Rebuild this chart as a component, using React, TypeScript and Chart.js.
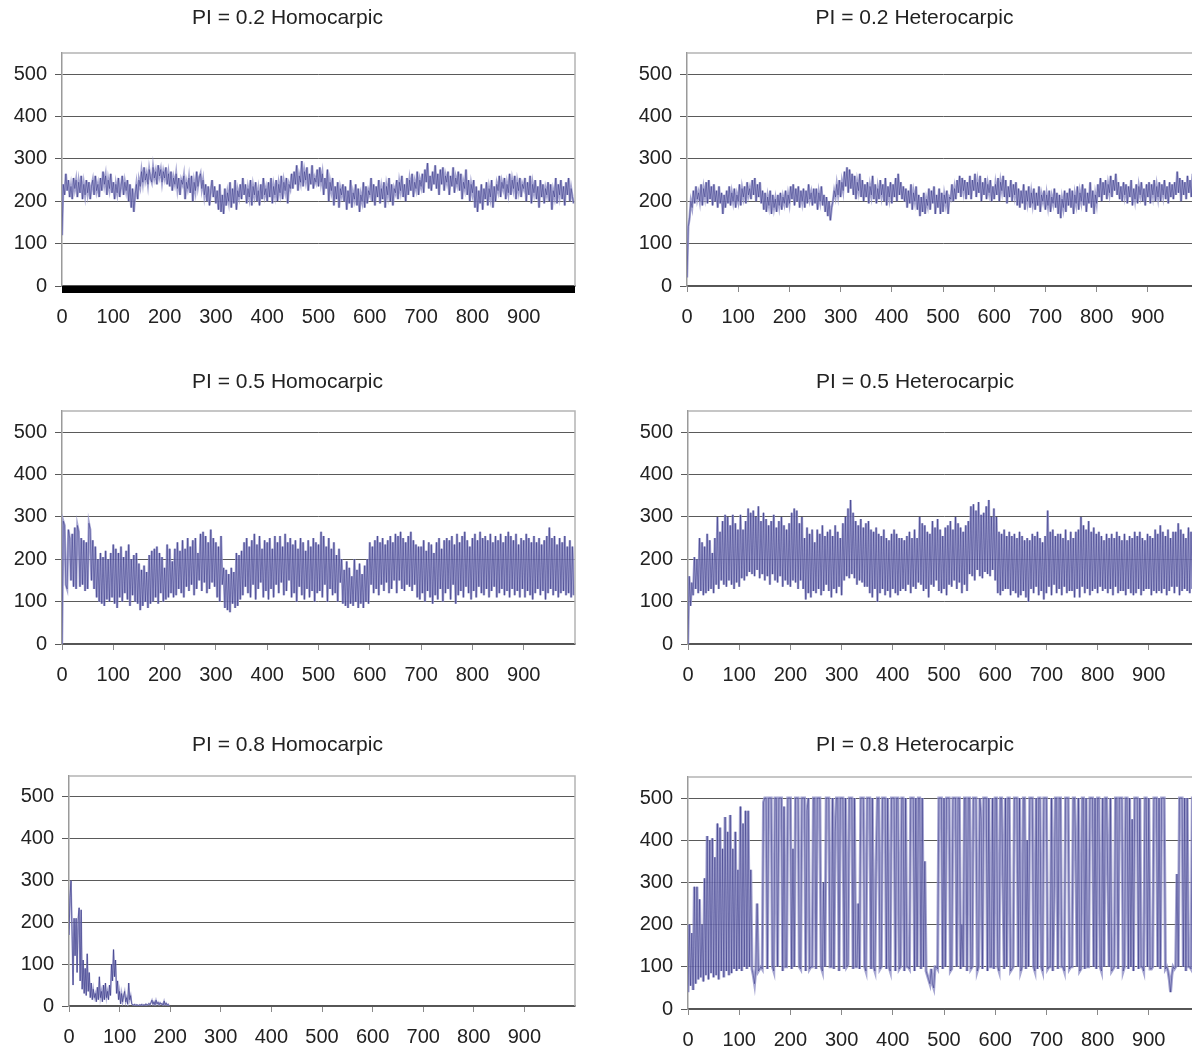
import React, { useEffect, useRef } from "react";
import { Chart, registerables } from "chart.js";

Chart.register(...registerables);

// ---------- data ----------
const X_TICK_VALUES = [0, 100, 200, 300, 400, 500, 600, 700, 800, 900];
const Y_TICK_VALUES = [0, 100, 200, 300, 400, 500];
const X_MAX = 1000;
const Y_MAX = 550;

const TITLE_TL = "PI = 0.2 Homocarpic";
const TITLE_TR = "PI = 0.2 Heterocarpic";
const TITLE_ML = "PI = 0.5 Homocarpic";
const TITLE_MR = "PI = 0.5 Heterocarpic";
const TITLE_BL = "PI = 0.8 Homocarpic";
const TITLE_BR = "PI = 0.8 Heterocarpic";

// generation spacing of the sampled values
const STEP_MAIN = 2.5;
const STEP_BL = 2;

const TL_VALUES = [
  120, 240, 215, 265, 225, 250, 210, 235, 205, 255,
  230, 250, 210, 245, 220, 260, 205, 240, 215, 250,
  220, 245, 205, 235, 250, 215, 260, 225, 240, 210,
  255, 225, 270, 240, 260, 215, 250, 230, 265, 220,
  245, 205, 240, 220, 255, 210, 235, 260, 215, 245,
  225, 250, 200, 240, 185, 230, 175, 215, 240, 205,
  250, 235, 270, 245, 280, 250, 265, 240, 275, 255,
  245, 280, 255, 270, 240, 285, 260, 275, 245, 270,
  255, 280, 240, 265, 235, 270, 225, 255, 240, 265,
  230, 255, 215, 250, 240, 260, 205, 245, 230, 255,
  220, 260, 200, 245, 225, 270, 235, 255, 265, 230,
  250, 215, 240, 200, 235, 190, 225, 250, 210, 235,
  195, 225, 180, 240, 175, 215, 170, 230, 190, 220,
  200, 245, 185, 230, 195, 250, 180, 225, 210, 240,
  205, 255, 215, 240, 195, 230, 210, 250, 190, 235,
  215, 245, 200, 225, 190, 240, 205, 255, 215, 230,
  200, 245, 210, 255, 195, 235, 215, 250, 200, 240,
  220, 260, 205, 245, 225, 255, 195, 240, 230, 265,
  230, 270, 240, 285, 225, 260, 245, 295, 235, 270,
  250, 280, 225, 265, 240, 285, 230, 255, 245, 275,
  235, 280, 245, 265, 215, 255, 230, 275, 200, 245,
  225, 255, 190, 235, 205, 245, 185, 230, 215, 240,
  200, 235, 180, 225, 195, 250, 185, 220, 205, 240,
  190, 230, 175, 215, 200, 245, 185, 235, 195, 225,
  215, 255, 200, 240, 190, 235, 210, 250, 195, 230,
  205, 245, 185, 235, 215, 255, 200, 240, 190, 230,
  220, 250, 205, 245, 225, 260, 210, 240, 200, 255,
  215, 250, 225, 265, 210, 245, 230, 270, 215, 250,
  235, 265, 220, 275, 245, 290, 230, 260, 225, 270,
  240, 285, 230, 265, 215, 275, 240, 280, 225, 260,
  245, 270, 215, 260, 235, 280, 220, 255, 240, 270,
  225, 265, 205, 245, 230, 275, 215, 250, 200, 240,
  220, 250, 185, 235, 175, 225, 195, 240, 180, 230,
  205, 245, 190, 230, 210, 250, 185, 235, 200, 240,
  225, 260, 210, 245, 230, 255, 205, 240, 220, 265,
  215, 250, 230, 260, 205, 245, 225, 255, 210, 240,
  230, 255, 200, 245, 215, 260, 195, 240, 220, 250,
  205, 235, 185, 250, 210, 240, 195, 230, 215, 245,
  200, 240, 180, 225, 210, 255, 195, 240, 215, 250,
  205, 235, 190, 245, 215, 255, 200, 230, 210, 195,
];

const TR_VALUES = [
  20, 140, 160, 200, 185, 225, 195, 235, 205, 220,
  200, 240, 190, 230, 210, 245, 195, 250, 205, 235,
  190, 240, 200, 225, 185, 235, 195, 220, 170, 215,
  185, 225, 195, 235, 190, 220, 200, 230, 185, 215,
  200, 240, 190, 230, 210, 235, 195, 245, 215, 230,
  205, 250, 215, 255, 200, 240, 210, 245, 195, 225,
  180, 220, 175, 210, 190, 225, 170, 215, 185, 205,
  175, 215, 190, 220, 180, 210, 195, 225, 185, 215,
  195, 235, 205, 240, 190, 230, 200, 235, 185, 225,
  200, 230, 185, 225, 195, 240, 205, 220, 190, 230,
  195, 230, 180, 220, 200, 235, 190, 215, 175, 210,
  165, 200, 155, 185, 200, 225, 210, 240, 215, 250,
  210, 245, 225, 270, 235, 280, 220, 275, 230, 265,
  215, 260, 205, 245, 225, 265, 210, 250, 200, 240,
  210, 245, 195, 235, 215, 260, 205, 240, 195, 230,
  205, 250, 215, 240, 200, 255, 190, 235, 210, 245,
  195, 240, 210, 255, 200, 265, 215, 245, 205, 235,
  200, 230, 185, 225, 195, 240, 180, 220, 200, 235,
  180, 215, 165, 210, 175, 220, 170, 205, 190, 230,
  180, 225, 195, 235, 170, 215, 185, 230, 170, 220,
  175, 215, 195, 225, 170, 210, 205, 240, 200, 230,
  205, 250, 220, 260, 210, 255, 225, 250, 205, 245,
  215, 260, 205, 250, 225, 265, 210, 245, 220, 260,
  200, 245, 215, 255, 205, 240, 220, 250, 200, 235,
  205, 240, 215, 255, 200, 245, 225, 260, 210, 250,
  195, 235, 210, 250, 200, 240, 215, 245, 190, 230,
  185, 225, 195, 240, 180, 225, 200, 235, 185, 220,
  195, 230, 180, 220, 190, 235, 175, 215, 200, 225,
  180, 215, 190, 225, 175, 210, 195, 230, 185, 220,
  170, 215, 160, 205, 185, 225, 175, 220, 190, 230,
  185, 225, 170, 215, 195, 235, 180, 220, 200, 240,
  190, 230, 175, 220, 195, 245, 185, 225, 170, 215,
  195, 240, 210, 255, 200, 245, 215, 250, 205, 240,
  220, 260, 210, 250, 225, 265, 215, 245, 205, 235,
  200, 245, 215, 240, 195, 235, 210, 250, 190, 230,
  205, 240, 195, 235, 215, 245, 200, 230, 190, 240,
  210, 245, 195, 240, 215, 250, 200, 235, 210, 245,
  200, 240, 215, 250, 205, 235, 195, 245, 210, 240,
  205, 245, 215, 270, 220, 255, 200, 250, 215, 245,
  205, 260, 220, 250, 210, 265, 215, 245, 205, 240,
];

const ML_VALUES = [
  0, 290, 280, 140, 130, 270, 250, 150, 260, 135,
  275, 130, 280, 265, 135, 250, 140, 245, 125, 240,
  130, 285, 270, 150, 245, 130, 230, 110, 200, 100,
  215, 95, 205, 90, 220, 105, 200, 100, 215, 110,
  235, 95, 225, 85, 215, 110, 230, 100, 205, 120,
  220, 105, 235, 90, 200, 115, 210, 100, 215, 95,
  190, 80, 175, 90, 185, 100, 170, 85, 210, 95,
  220, 100, 225, 110, 230, 95, 215, 120, 205, 100,
  180, 105, 235, 110, 225, 120, 195, 110, 225, 115,
  240, 130, 220, 120, 245, 110, 225, 135, 250, 125,
  230, 140, 245, 115, 250, 130, 215, 150, 260, 125,
  265, 145, 255, 120, 240, 130, 270, 145, 250, 135,
  240, 110, 230, 100, 255, 140, 180, 85, 175, 80,
  165, 75, 180, 95, 170, 85, 215, 90, 210, 105,
  220, 115, 240, 135, 250, 120, 230, 110, 245, 140,
  260, 105, 235, 130, 255, 145, 225, 110, 245, 125,
  240, 105, 250, 130, 225, 110, 255, 140, 240, 120,
  255, 145, 230, 115, 260, 125, 240, 150, 250, 110,
  235, 120, 245, 100, 225, 135, 250, 115, 240, 105,
  220, 130, 245, 110, 230, 125, 250, 100, 240, 120,
  235, 125, 265, 110, 255, 140, 230, 100, 250, 130,
  225, 115, 240, 120, 210, 100, 225, 145, 200, 95,
  175, 90, 195, 85, 180, 95, 160, 90, 200, 100,
  175, 85, 190, 95, 165, 85, 185, 100, 200, 95,
  240, 140, 230, 120, 245, 130, 255, 115, 240, 140,
  250, 125, 235, 145, 245, 120, 255, 130, 240, 150,
  260, 120, 255, 150, 265, 130, 250, 125, 240, 140,
  255, 135, 265, 125, 245, 140, 235, 110, 230, 105,
  230, 120, 245, 100, 220, 125, 240, 110, 235, 95,
  215, 115, 240, 105, 250, 130, 225, 100, 245, 120,
  250, 130, 245, 105, 255, 140, 235, 95, 260, 115,
  240, 125, 255, 110, 265, 135, 245, 120, 230, 105,
  250, 125, 260, 110, 245, 135, 265, 120, 250, 115,
  255, 130, 245, 110, 260, 125, 240, 135, 255, 110,
  245, 120, 260, 130, 240, 115, 255, 125, 265, 110,
  255, 130, 245, 115, 260, 125, 235, 110, 250, 130,
  245, 110, 260, 125, 250, 115, 240, 105, 255, 120,
  240, 130, 250, 115, 235, 125, 245, 105, 255, 120,
  275, 130, 250, 115, 255, 125, 235, 110, 250, 120,
  240, 125, 255, 115, 230, 120, 245, 110, 230, 115,
];

const MR_VALUES = [
  0, 160, 90, 145, 115, 205, 130, 200, 120, 250,
  125, 240, 115, 230, 120, 260, 125, 245, 130, 215,
  120, 250, 140, 300, 130, 265, 150, 290, 140, 305,
  135, 300, 150, 280, 140, 305, 130, 285, 145, 270,
  135, 305, 155, 270, 150, 290, 160, 320, 170, 310,
  165, 315, 160, 300, 175, 325, 155, 290, 165, 310,
  150, 295, 160, 280, 140, 290, 165, 305, 150, 275,
  145, 290, 160, 300, 135, 280, 150, 270, 140, 285,
  135, 310, 150, 320, 145, 315, 130, 285, 150, 300,
  130, 250, 105, 275, 120, 260, 110, 270, 125, 240,
  120, 270, 130, 260, 115, 280, 125, 255, 140, 265,
  125, 270, 110, 255, 130, 280, 120, 265, 135, 250,
  115, 285, 150, 300, 160, 320, 155, 340, 165, 310,
  155, 290, 140, 280, 150, 295, 145, 275, 135, 285,
  135, 290, 120, 270, 110, 265, 130, 275, 100, 260,
  120, 255, 130, 270, 115, 250, 125, 245, 110, 260,
  130, 270, 120, 260, 115, 250, 125, 250, 130, 245,
  125, 255, 140, 265, 120, 250, 135, 270, 130, 250,
  145, 300, 140, 285, 125, 280, 130, 265, 110, 260,
  140, 290, 135, 275, 150, 295, 125, 270, 120, 255,
  130, 275, 115, 280, 140, 290, 135, 270, 150, 300,
  130, 285, 145, 275, 120, 265, 140, 280, 125, 290,
  165, 325, 160, 330, 150, 315, 175, 335, 160, 305,
  155, 310, 170, 325, 165, 340, 160, 300, 175, 320,
  150, 300, 120, 265, 115, 260, 125, 270, 130, 255,
  130, 265, 115, 255, 125, 260, 120, 250, 110, 265,
  115, 255, 125, 245, 110, 250, 100, 245, 130, 260,
  120, 255, 135, 265, 115, 250, 125, 240, 105, 255,
  120, 315, 135, 265, 115, 270, 140, 255, 120, 260,
  130, 260, 115, 250, 135, 270, 120, 245, 125, 265,
  125, 250, 110, 265, 130, 270, 110, 300, 135, 280,
  120, 270, 130, 290, 115, 265, 125, 275, 130, 260,
  120, 265, 135, 255, 125, 245, 130, 260, 120, 250,
  130, 260, 115, 250, 135, 265, 120, 255, 125, 245,
  125, 260, 115, 245, 130, 255, 120, 250, 115, 265,
  120, 255, 130, 265, 115, 250, 125, 245, 130, 260,
  130, 255, 115, 250, 125, 270, 120, 260, 125, 280,
  120, 265, 130, 255, 115, 270, 125, 250, 135, 265,
  120, 265, 135, 285, 115, 270, 125, 260, 130, 250,
  125, 275, 120, 265, 130, 255, 115, 260, 125, 250,
];

const BL_VALUES = [
  170, 260, 300, 180, 50, 210, 120, 210, 80, 205,
  235, 60, 230, 40, 110, 30, 90, 25, 125, 35,
  80, 20, 55, 15, 40, 20, 30, 10, 45, 15,
  70, 20, 35, 10, 50, 15, 55, 20, 35, 15,
  50, 25, 100, 60, 135, 70, 110, 30, 60, 15,
  35, 5, 30, 10, 25, 35, 10, 20, 5, 55,
  15, 25, 5, 3, 2, 4, 1, 3, 2, 1,
  3, 2, 4, 1, 3, 2, 5, 2, 3, 6,
  3, 8, 14, 4, 10, 3, 14, 5, 9, 3,
  8, 4, 6, 2, 12, 3, 7, 2, 4, 0,
];

const BR_VALUES = [
  40, 200, 55, 180, 45, 290, 60, 290, 70, 260,
  75, 200, 65, 310, 80, 410, 70, 400, 85, 405,
  75, 360, 80, 440, 70, 430, 90, 380, 75, 455,
  90, 420, 80, 460, 85, 380, 95, 420, 90, 330,
  95, 480, 90, 440, 100, 470, 95, 470, 100, 330,
  95, 80, 60, 95, 250, 90, 95, 100, 95, 490,
  500, 500, 95, 500, 500, 500, 100, 90, 500, 500,
  100, 500, 500, 500, 90, 480, 100, 100, 500, 500,
  500, 95, 380, 100, 500, 500, 500, 100, 95, 500,
  500, 500, 90, 470, 500, 95, 100, 100, 500, 500,
  95, 500, 500, 500, 100, 90, 300, 100, 500, 500,
  500, 100, 100, 500, 95, 420, 500, 500, 90, 500,
  500, 500, 95, 500, 100, 105, 500, 500, 500, 95,
  500, 100, 100, 250, 95, 500, 500, 500, 100, 90,
  500, 500, 500, 95, 500, 100, 90, 350, 500, 500,
  95, 100, 500, 500, 500, 95, 500, 100, 90, 500,
  500, 500, 90, 500, 500, 95, 100, 500, 500, 90,
  500, 100, 100, 95, 500, 500, 500, 90, 500, 100,
  500, 500, 95, 500, 100, 350, 90, 80, 70, 60,
  95, 60, 50, 100, 100, 95, 500, 500, 500, 95,
  500, 100, 500, 500, 500, 90, 95, 500, 500, 500,
  100, 500, 500, 95, 200, 100, 500, 500, 90, 500,
  500, 95, 100, 500, 500, 500, 90, 100, 500, 450,
  95, 500, 500, 500, 90, 500, 100, 100, 500, 95,
  500, 500, 100, 90, 500, 500, 300, 95, 500, 100,
  500, 500, 90, 95, 100, 500, 500, 500, 100, 500,
  90, 100, 500, 500, 95, 400, 100, 500, 500, 500,
  100, 90, 500, 95, 500, 500, 100, 90, 500, 500,
  500, 95, 100, 100, 500, 90, 250, 500, 500, 95,
  500, 500, 100, 100, 90, 500, 500, 500, 95, 100,
  100, 500, 500, 350, 100, 500, 90, 95, 500, 500,
  95, 500, 100, 100, 500, 500, 500, 100, 500, 95,
  500, 500, 100, 90, 500, 100, 500, 500, 300, 100,
  500, 90, 95, 100, 500, 500, 95, 500, 500, 500,
  90, 100, 500, 500, 95, 500, 100, 450, 90, 500,
  500, 500, 95, 500, 100, 100, 90, 500, 500, 100,
  500, 95, 95, 100, 500, 500, 500, 100, 500, 95,
  500, 500, 500, 95, 100, 90, 70, 40, 80, 100,
  95, 100, 320, 100, 500, 500, 500, 100, 500, 90,
  500, 100, 100, 95, 500, 500, 500, 90, 500, 100,
];

// ---------- styles ----------
const FONT = "'Liberation Sans', Arial, Helvetica, sans-serif";
const LINE_COLOR = "rgba(30, 30, 115, 0.6)";
const HALO_COLOR = "rgba(150, 150, 202, 0.85)";
const TEXT_COLOR = "#222222";

type Box = { left: number; top: number; width: number; height: number };
type Plot = { left: number; top: number; right: number; bottom: number };

type PanelProps = {
  title: string;
  values: number[];
  step: number;
  canvas: Box;
  plot: Plot;
  titleY: number;
  thickAxis?: boolean;
  haloWidth: number;
  lineWidth: number;
};

const framePlugin = {
  id: "frame",
  afterDraw(chart: any, _args: any, opts: any) {
    const { ctx, chartArea } = chart;
    ctx.save();
    ctx.strokeStyle = "#b4b4b4";
    ctx.lineWidth = 1.5;
    ctx.beginPath();
    ctx.moveTo(chartArea.left, chartArea.top);
    ctx.lineTo(chartArea.right, chartArea.top);
    ctx.lineTo(chartArea.right, chartArea.bottom);
    ctx.stroke();
    if (opts && opts.thick) {
      ctx.fillStyle = "#000000";
      ctx.fillRect(chartArea.left, chartArea.bottom, chartArea.right - chartArea.left, 7);
    }
    ctx.restore();
  },
};

function Panel({ title, values, step, canvas, plot, titleY, thickAxis, haloWidth, lineWidth }: PanelProps) {
  const ref = useRef<HTMLCanvasElement | null>(null);

  useEffect(() => {
    if (!ref.current) return;
    const plotLeft = plot.left - canvas.left;
    const plotRight = plot.right - canvas.left;
    const plotTop = plot.top - canvas.top;
    const plotBottom = plot.bottom - canvas.top;
    const tY = titleY - canvas.top;
    const titleFont = 21;
    const titleLine = titleFont * 1.2;

    const points = values.map((v, i) => ({ x: i * step, y: v }));

    const chart = new Chart(ref.current, {
      type: "line",
      data: {
        datasets: [
          {
            data: points,
            borderColor: LINE_COLOR,
            borderWidth: lineWidth,
            pointRadius: 0,
            tension: 0,
            fill: false,
            order: 0,
          },
          {
            data: points,
            borderColor: HALO_COLOR,
            borderWidth: haloWidth,
            pointRadius: 0,
            tension: 0,
            fill: false,
            order: 1,
          },
        ],
      },
      options: {
        responsive: false,
        animation: false,
        devicePixelRatio: 1,
        layout: {
          padding: { left: 0, right: canvas.width - plotRight, top: 0, bottom: 0 },
        },
        plugins: {
          legend: { display: false },
          tooltip: { enabled: false },
          title: {
            display: true,
            text: title,
            color: TEXT_COLOR,
            font: { family: FONT, size: titleFont, weight: "normal" as any, lineHeight: 1.2 },
            padding: {
              top: tY - titleLine / 2,
              bottom: plotTop - (tY + titleLine / 2),
            },
          },
          frame: { thick: !!thickAxis },
        } as any,
        scales: {
          x: {
            type: "linear",
            min: 0,
            max: X_MAX,
            afterBuildTicks: (axis: any) => {
              axis.ticks = X_TICK_VALUES.map((v) => ({ value: v }));
            },
            afterFit: (axis: any) => {
              axis.height = canvas.height - plotBottom;
            },
            grid: {
              drawOnChartArea: false,
              drawTicks: true,
              tickLength: 6,
              color: "#8a8a8a",
            },
            border: { display: true, color: "#555555", width: 1.5 },
            ticks: {
              color: TEXT_COLOR,
              padding: 13,
              maxRotation: 0,
              autoSkip: false,
              font: { family: FONT, size: 20 },
            },
          },
          y: {
            type: "linear",
            min: 0,
            max: Y_MAX,
            afterBuildTicks: (axis: any) => {
              axis.ticks = Y_TICK_VALUES.map((v) => ({ value: v }));
            },
            afterFit: (axis: any) => {
              axis.width = plotLeft;
            },
            grid: {
              drawOnChartArea: true,
              drawTicks: true,
              tickLength: 7,
              color: "#5a5a5a",
              lineWidth: 1,
            },
            border: { display: true, color: "#9a9a9a", width: 1.5 },
            ticks: {
              color: TEXT_COLOR,
              padding: 8,
              autoSkip: false,
              font: { family: FONT, size: 20 },
            },
          },
        },
      } as any,
      plugins: [framePlugin],
    });
    return () => chart.destroy();
  }, [title, values, step, canvas, plot, titleY, thickAxis, haloWidth, lineWidth]);

  return (
    <canvas
      ref={ref}
      width={canvas.width}
      height={canvas.height}
      style={{
        position: "absolute",
        left: canvas.left,
        top: canvas.top,
        width: canvas.width,
        height: canvas.height,
        display: "block",
      }}
    />
  );
}

const PANELS: PanelProps[] = [
  {
    title: TITLE_TL, values: TL_VALUES, step: STEP_MAIN, titleY: 18, thickAxis: true, haloWidth: 2.4, lineWidth: 0.7,
    canvas: { left: 0, top: 0, width: 582, height: 345 },
    plot: { left: 62, top: 53, right: 575, bottom: 286 },
  },
  {
    title: TITLE_TR, values: TR_VALUES, step: STEP_MAIN, titleY: 18, haloWidth: 2.4, lineWidth: 0.7,
    canvas: { left: 630, top: 0, width: 575, height: 345 },
    plot: { left: 687, top: 53, right: 1199, bottom: 286 },
  },
  {
    title: TITLE_ML, values: ML_VALUES, step: STEP_MAIN, titleY: 382, haloWidth: 2.4, lineWidth: 0.7,
    canvas: { left: 0, top: 360, width: 582, height: 345 },
    plot: { left: 62, top: 411, right: 575, bottom: 644 },
  },
  {
    title: TITLE_MR, values: MR_VALUES, step: STEP_MAIN, titleY: 382, haloWidth: 2.4, lineWidth: 0.7,
    canvas: { left: 630, top: 360, width: 575, height: 345 },
    plot: { left: 688, top: 411, right: 1200, bottom: 644 },
  },
  {
    title: TITLE_BL, values: BL_VALUES, step: STEP_BL, titleY: 745, haloWidth: 1.6, lineWidth: 0.8,
    canvas: { left: 0, top: 720, width: 590, height: 327 },
    plot: { left: 69, top: 776, right: 575, bottom: 1006 },
  },
  {
    title: TITLE_BR, values: BR_VALUES, step: STEP_MAIN, titleY: 745, haloWidth: 3.0, lineWidth: 0.7,
    canvas: { left: 630, top: 720, width: 575, height: 327 },
    plot: { left: 688, top: 777, right: 1200, bottom: 1009 },
  },
];

export default function App() {
  return (
    <div
      style={{
        position: "fixed",
        left: 0,
        top: 0,
        width: 1192,
        height: 1047,
        overflow: "hidden",
        background: "#ffffff",
      }}
    >
      {PANELS.map((p) => (
        <Panel key={p.title} {...p} />
      ))}
    </div>
  );
}
